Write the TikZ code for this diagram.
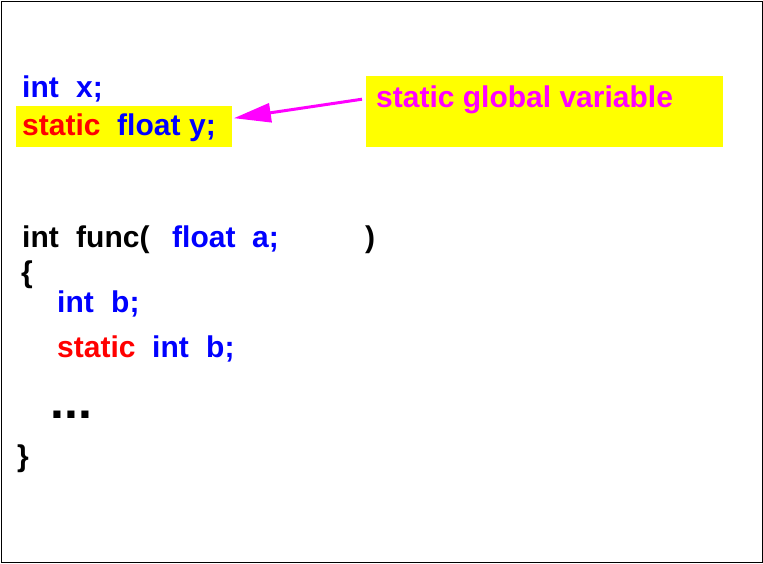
\documentclass[tikz,border=0pt]{standalone}
\usepackage{fontspec}
\setmainfont{Liberation Sans}
\usetikzlibrary{arrows.meta}
\definecolor{cblue}{RGB}{0,0,255}
\definecolor{cred}{RGB}{255,0,0}
\definecolor{cmag}{RGB}{255,0,255}
\definecolor{cyel}{RGB}{255,255,0}
\tikzset{
  code/.style={anchor=base west, inner sep=0pt, font=\fontsize{30}{31}\selectfont\bfseries},
  kw/.style={code, text=cblue},
  st/.style={code, text=cred},
  bk/.style={code, text=black},
  note/.style={code, text=cmag},
  hl/.style={fill=cyel, draw=none, anchor=north west, inner sep=0pt},
  arr/.style={draw=cmag, line width=3pt, -{Triangle[length=37pt,width=19pt]}},
}
\begin{document}
\begin{tikzpicture}[x=1pt,y=-1pt]
\useasboundingbox (0,0) rectangle (763,563);
\draw[line width=1pt] (1,1) rectangle (762,562);
% highlight boxes
\node[hl, minimum width=216pt, minimum height=41pt] (ybox) at (16,106) {};
\node[hl, minimum width=357pt, minimum height=71pt] (gbox) at (366,76) {};
% globals
\node[kw] (l1a) at (22,97) {int};
\node[kw] (l1b) at (76,97) {x;};
\node[st] (l2a) at (22,135) {static};
\node[kw] (l2b) at (117,135) {float};
\node[kw] (l2c) at (189,135) {y;};
% note
\node[note] (gtext) at (376,107) {static global variable};
\draw[arr] ([xshift=-4pt,yshift=12.5pt]gbox.west) -- ([xshift=1.5pt,yshift=8.5pt]ybox.east);
% function
\node[bk] (f1) at (22,247) {int};
\node[bk] (f2) at (76,247) {func(};
\node[kw] (f3) at (172,247) {float};
\node[kw] (f4) at (252,247) {a;};
\node[bk] (f5) at (365,247) {)};
\node[bk] (ob) at (21,282) {\{};
\node[kw] (b1) at (57,312) {int};
\node[kw] (b2) at (111,312) {b;};
\node[st] (s1) at (57,357) {static};
\node[kw] (s2) at (152,357) {int};
\node[kw] (s3) at (206,357) {b;};
\node[anchor=base west, inner sep=0pt, font=\fontsize{50}{52}\selectfont\bfseries] (dots) at (50.5,418) {...};
\node[bk] (cb) at (17,466) {\}};
\end{tikzpicture}
\end{document}
